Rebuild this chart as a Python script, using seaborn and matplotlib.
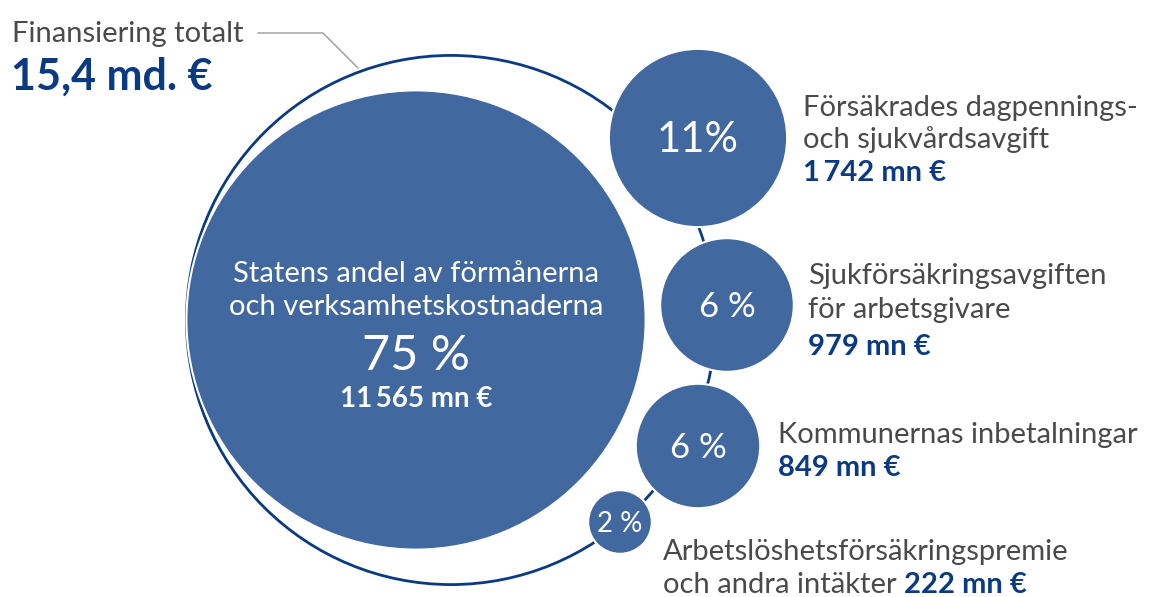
import numpy as np
import pandas as pd
import matplotlib
matplotlib.use("Agg")
import matplotlib.pyplot as plt
from matplotlib.patches import Circle
import seaborn as sns

# --- Data (mn €) ---
categories = ["Staten", "Försäkrade", "Arbetsgivare", "Kommunerna", "Övriga"]
values = [11565, 1742, 979, 849, 222]
shares = ["75 %", "11%", "6 %", "6 %", "2 %"]
total_value = 15357
total_label = "15,4 md. €"

amounts = ["11\u2009565 mn €", "1\u2009742 mn €", "979 mn €", "849 mn €", "222 mn €"]

# --- Layout (pixels) ---
W, H = 1150, 597
K = 2.135  # px radius per sqrt(mn €)
centers_x = [416, 698, 727, 698, 620]
centers_y = [320, 138, 305, 446, 522]
outline_center = (451, 320)

FILL = "#41689F"
DARK = "#0B3A84"
GREY = "#4A4A4A"
FONT = ["Lato", "DejaVu Sans"]
LBL = 21   # label font size
VAL = 21   # bold amount font size

sns.set_theme(style="white")
plt.rcParams["font.family"] = FONT

fig = plt.figure(figsize=(W / 100, H / 100), dpi=100)
ax = fig.add_axes([0, 0, 1, 1])

# outline for the total
ax.add_patch(Circle(outline_center, K * np.sqrt(total_value), fill=False,
                    edgecolor=DARK, linewidth=2.0, zorder=1))

# bubbles, area proportional to value (scatter sizes are in pt^2)
df = pd.DataFrame({"x": centers_x, "y": centers_y, "value": values, "cat": categories})
pt_per_px = 72 / 100
s_per_value = (2 * K * pt_per_px) ** 2
vmax = max(values)
sns.scatterplot(data=df, x="x", y="y", size="value", sizes=(0, s_per_value * vmax),
                size_norm=(0, vmax), color=FILL, edgecolor="white", linewidth=1.5,
                alpha=1, legend=False, ax=ax, zorder=2)
ax.set_xlim(0, W)
ax.set_ylim(H, 0)
ax.axis("off")

# title top left
ax.text(12, 42, "Finansiering totalt", fontsize=21, color=GREY, ha="left", va="baseline")
ax.text(11, 90, total_label, fontsize=31, color=DARK, ha="left", va="baseline",
        fontweight="bold")
ax.plot([258, 323, 358], [33, 33, 68], color="#9A9A9A", linewidth=1.0, zorder=0)

# big bubble text
cx = centers_x[0]
ax.text(cx, 282, "Statens andel av förmånerna", fontsize=LBL, color="white",
        ha="center", va="baseline", zorder=3)
ax.text(cx, 315, "och verksamhetskostnaderna", fontsize=LBL, color="white",
        ha="center", va="baseline", zorder=3)
ax.text(cx, 370, shares[0], fontsize=35, color="white", ha="center",
        va="baseline", zorder=3)
ax.text(cx, 407, amounts[0], fontsize=20, color="white", ha="center",
        va="baseline", fontweight="bold", zorder=3)

# small bubble percentages
share_sizes = [None, 30, 25, 25, 20]
for i in range(1, 5):
    ax.text(centers_x[i], centers_y[i] + 2, shares[i], fontsize=share_sizes[i],
            color="white", ha="center", va="center", zorder=3)

# right-hand labels
ax.text(803, 116, "Försäkrades dagpennings-", fontsize=LBL, color=GREY)
ax.text(803, 148, "och sjukvårdsavgift", fontsize=LBL, color=GREY)
ax.text(803, 181, amounts[1], fontsize=VAL, color=DARK, fontweight="bold")

ax.text(808, 284, "Sjukförsäkringsavgiften", fontsize=LBL, color=GREY)
ax.text(808, 318, "för arbetsgivare", fontsize=LBL, color=GREY)
ax.text(808, 355, amounts[2], fontsize=VAL, color=DARK, fontweight="bold")

ax.text(778, 443, "Kommunernas inbetalningar", fontsize=LBL, color=GREY)
ax.text(778, 476, amounts[3], fontsize=VAL, color=DARK, fontweight="bold")

ax.text(663, 560, "Arbetslöshetsförsäkringspremie", fontsize=LBL, color=GREY)
t = ax.text(663, 593, "och andra intäkter", fontsize=LBL, color=GREY)
ax.annotate(amounts[4], xy=(1, 0), xycoords=t, xytext=(5, 0), textcoords="offset points",
            fontsize=VAL, color=DARK, fontweight="bold", ha="left", va="bottom")

fig.savefig("out.png", dpi=100)
